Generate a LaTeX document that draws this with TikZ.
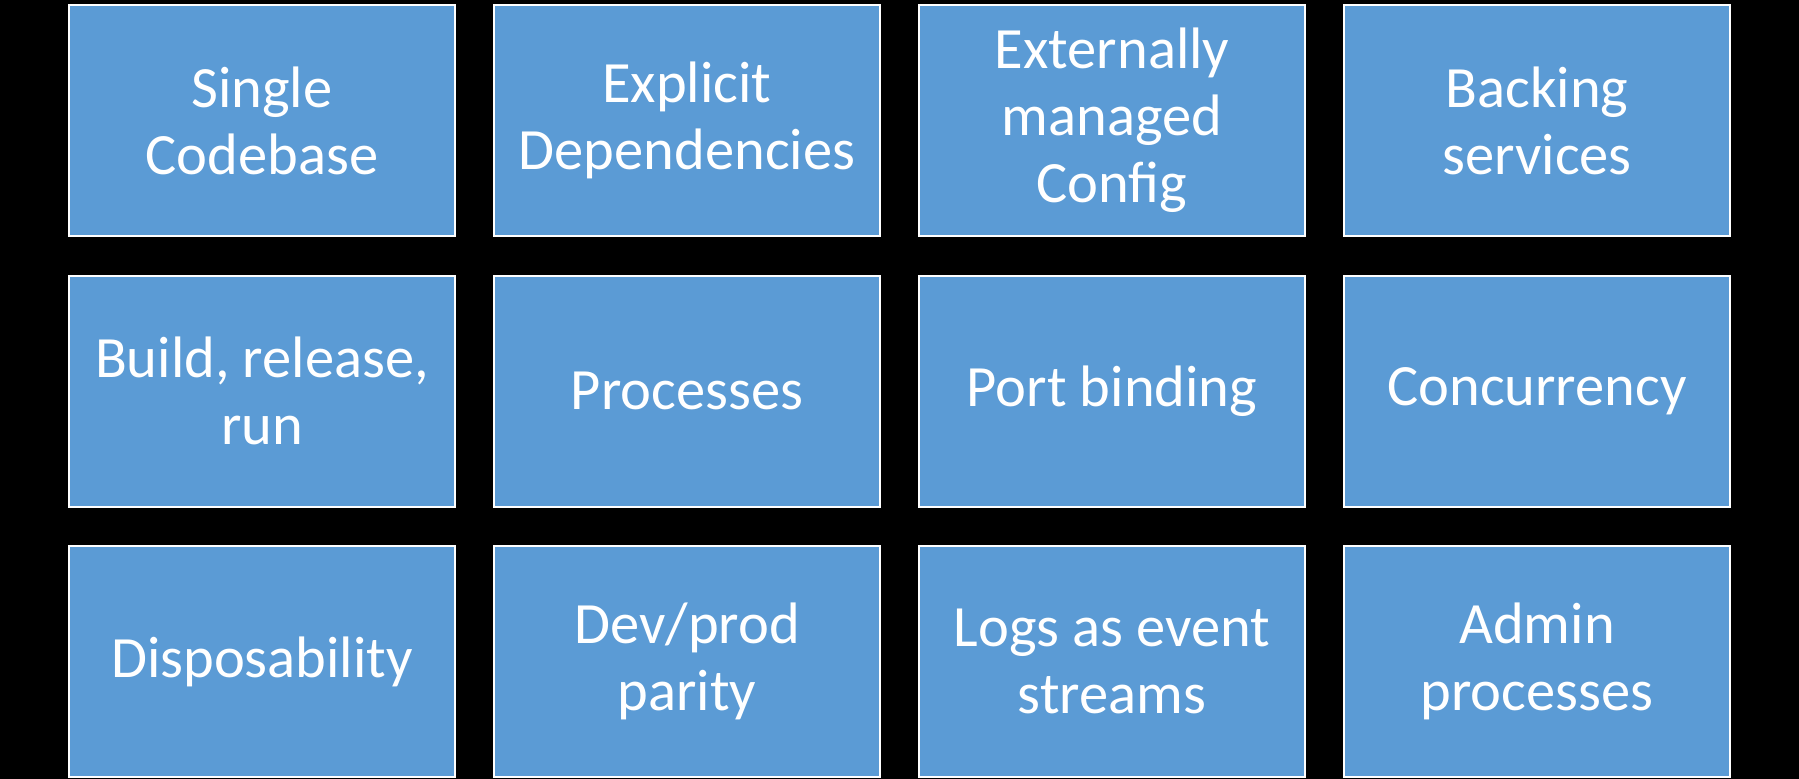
\documentclass[tikz,border=0pt]{standalone}
\usepackage{fontspec}
\setmainfont{Carlito}
\definecolor{boxblue}{HTML}{5B9BD5}
\tikzset{
  factor/.style={draw=white, line width=2pt, fill=boxblue, minimum width=386pt, minimum height=231pt,
    inner sep=0pt, text=white, align=center, font=\fontsize{58.5}{67}\selectfont}
}
\begin{document}
\begin{tikzpicture}[x=1pt,y=-1pt]
\fill[black] (0,0) rectangle (1799,779);
\useasboundingbox (0,0) rectangle (1799,779);
\node[factor] (n1) at (262,120.5) {Single\\Codebase};
\node[factor] (n2) at (687,120.5) {Explicit\\Dependencies};
\node[factor] (n3) at (1112,120.5) {Externally\\managed\\Config};
\node[factor] (n4) at (1537,120.5) {Backing\\services};
\node[factor] (n5) at (262,391) {Build, release,\\run};
\node[factor] (n6) at (687,391) {Processes};
\node[factor] (n7) at (1112,391) {Port binding};
\node[factor] (n8) at (1537,391) {Concurrency};
\node[factor] (n9) at (262,661.5) {Disposability};
\node[factor] (n10) at (687,661.5) {Dev/prod\\parity};
\node[factor] (n11) at (1112,661.5) {Logs as event\\streams};
\node[factor] (n12) at (1537,661.5) {Admin\\processes};
\end{tikzpicture}
\end{document}
